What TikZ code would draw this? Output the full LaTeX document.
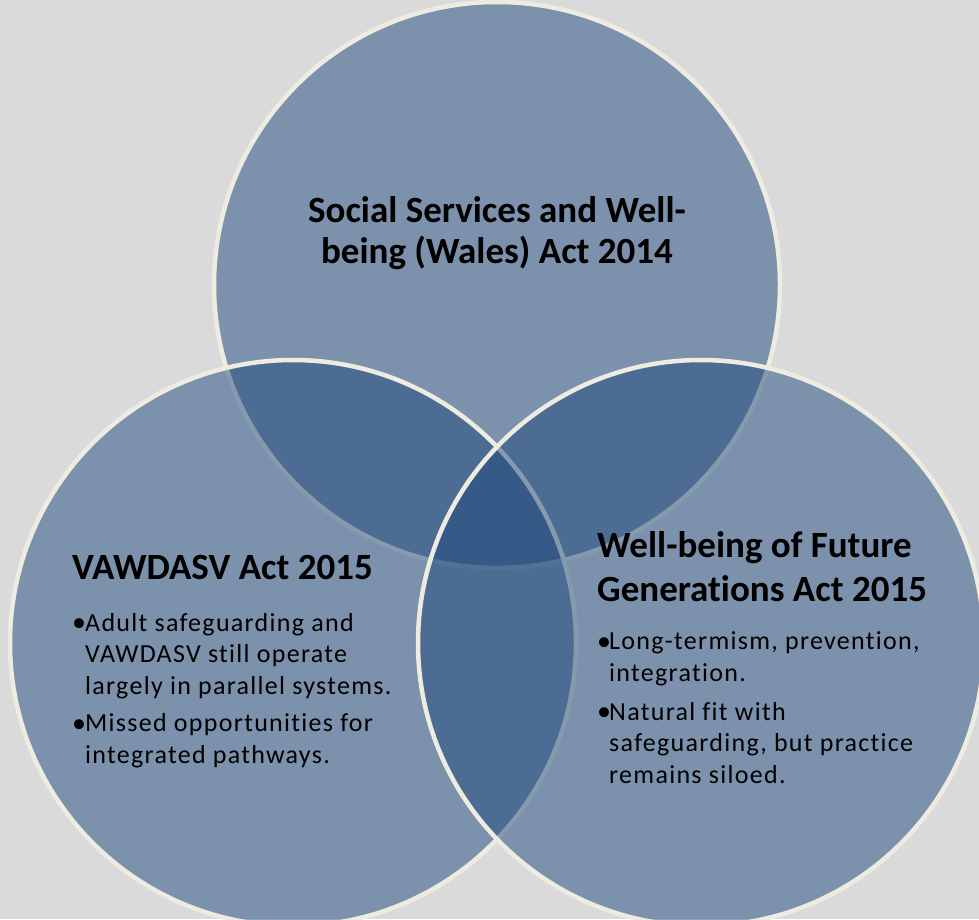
\documentclass[tikz,border=0pt]{standalone}
\usepackage{fontspec}
\setmainfont{Carlito}[Ligatures=NoCommon]
\newfontfamily\wideface{Carlito}[LetterSpace=5,Ligatures=NoCommon]
\usetikzlibrary{positioning}
\definecolor{bgGray}{HTML}{DADADA}
\definecolor{vennBlue}{HTML}{1F497D}
\definecolor{vennRim}{HTML}{EEECE1}
\tikzset{venn/.style ={circle, minimum size=566pt, inner sep=0pt, fill=vennBlue, fill opacity=0.5, draw=vennRim, line width=4.5pt}}
\tikzset{heading/.style ={font=\fontsize{37}{44}\selectfont\bfseries, inner sep=0pt, align=left, anchor=base west}}
\tikzset{bultext/.style ={font=\wideface\fontsize{26}{31.5}\selectfont, inner sep=0pt, align=left, anchor=base west}}
\tikzset{bulmark/.style ={font=\fontsize{28}{31.5}\selectfont, inner sep=0pt, anchor=base west}}

\begin{document}
\begin{tikzpicture}[x=1pt,y=-1pt]
{
\fill[bgGray] (0,0) rectangle (979,919);
\useasboundingbox (0,0) rectangle (979,919);
\clip (0,0) rectangle (979,919);
\node[venn] (social) at (497,285) {};
\node[venn] (vawdasv) at (293,643) {};
\node[venn] (future) at (701,643) {};
% base anchor of a multi-line node sits on its last line
\node[heading, font=\fontsize{37}{41}\selectfont\bfseries, align=center, anchor=base] (socialtitle) at (497,263) {Social Services and Well-\\being (Wales) Act 2014};
\node[heading] (vawdasvtitle) at (72,579) {VAWDASV Act 2015};
\node[bulmark] (vawdasvdot1) at (72,631) {\textbullet};
\node[bultext] (vawdasvitem1) at (85,694) {Adult safeguarding and\\VAWDASV still operate\\largely in parallel systems.};
\node[bulmark] (vawdasvdot2) at (72,732) {\textbullet};
\node[bultext] (vawdasvitem2) at (85,763) {Missed opportunities for\\integrated pathways.};
\node[heading] (futuretitle) at (597,601) {Well-being of Future\\Generations Act 2015};
\node[bulmark] (futuredot1) at (597,650) {\textbullet};
\node[bultext] (futureitem1) at (609,681) {Long-termism, prevention,\\integration.};
\node[bulmark] (futuredot2) at (597,720) {\textbullet};
\node[bultext] (futureitem2) at (609,783) {Natural fit with\\safeguarding, but practice\\remains siloed.};
}
\end{tikzpicture}
\end{document}
